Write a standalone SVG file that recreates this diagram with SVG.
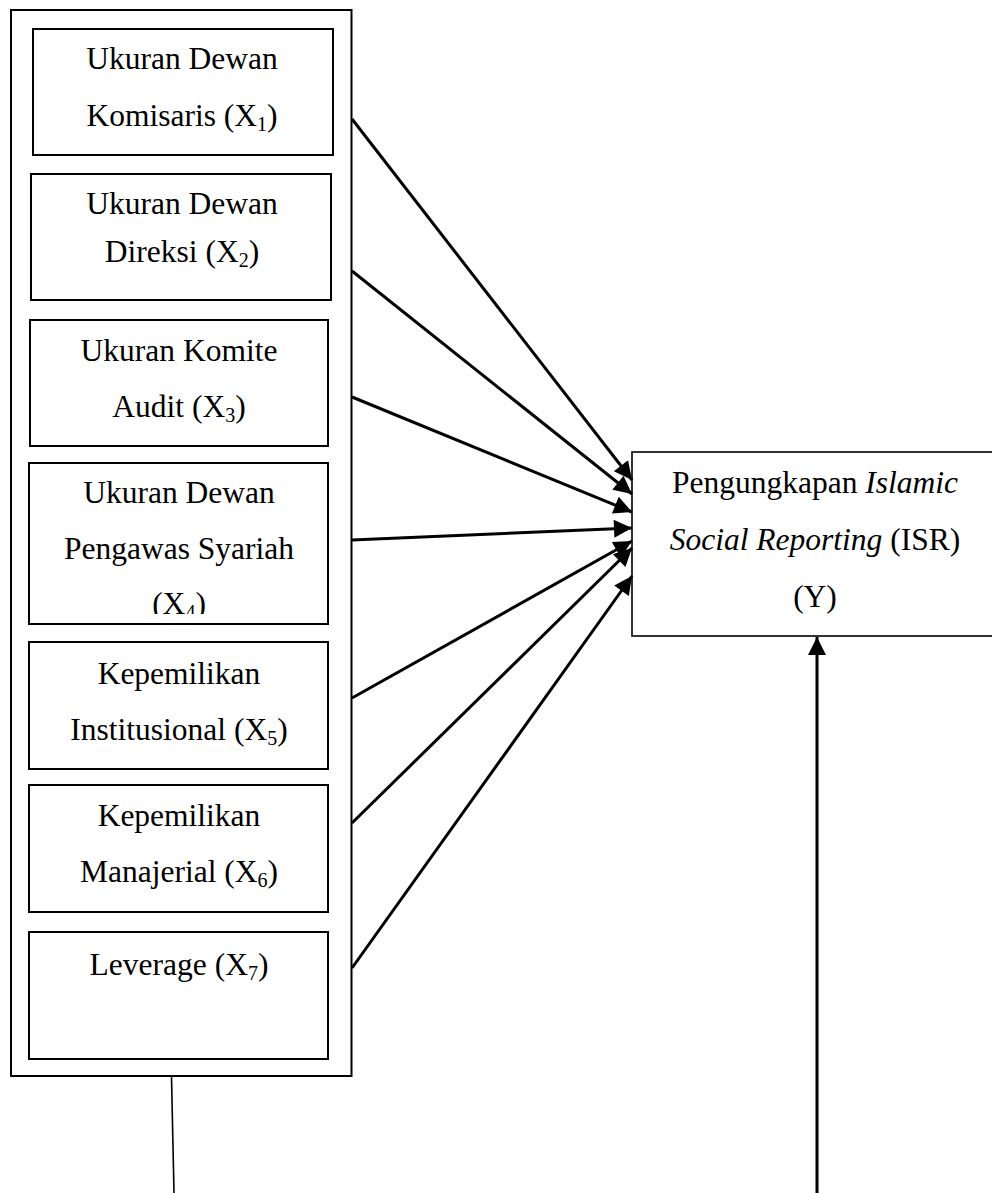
<svg xmlns="http://www.w3.org/2000/svg" width="992" height="1193" viewBox="0 0 992 1193">
<style>
.box{fill:#fff;stroke:#000;stroke-width:2}
.t{font-family:"Liberation Serif","Times New Roman",serif;font-size:31.5px;fill:#000;text-anchor:middle}
.sub{font-size:20px}
.it{font-style:italic}
.c{stroke:#000;stroke-width:3;fill:none}
</style>
<defs>
<marker id="ah" viewBox="0 0 10 10" refX="10" refY="5" markerWidth="7" markerHeight="6" markerUnits="strokeWidth" orient="auto">
<path d="M0,0 L10,5 L0,10 z" fill="#000"/>
</marker>
<clipPath id="clip4"><rect x="29" y="463" width="299" height="151"/></clipPath>
</defs>
<g id="outer"><rect class="box" x="11" y="10" width="340.5" height="1066"/></g>
<g id="x1"><rect class="box" x="33" y="29" width="300" height="126"/>
<text class="t" x="182" y="69">Ukuran Dewan</text>
<text class="t" x="182" y="126">Komisaris (X<tspan class="sub" dy="5">1</tspan><tspan dy="-5">)</tspan></text></g>
<g id="x2"><rect class="box" x="31" y="174" width="300" height="126"/>
<text class="t" x="182" y="214">Ukuran Dewan</text>
<text class="t" x="182" y="262">Direksi (X<tspan class="sub" dy="5">2</tspan><tspan dy="-5">)</tspan></text></g>
<g id="x3"><rect class="box" x="30" y="320" width="298" height="126"/>
<text class="t" x="179" y="361">Ukuran Komite</text>
<text class="t" x="179" y="417">Audit (X<tspan class="sub" dy="5">3</tspan><tspan dy="-5">)</tspan></text></g>
<g id="x4"><rect class="box" x="29" y="463" width="299" height="161"/>
<g clip-path="url(#clip4)">
<text class="t" x="179" y="503">Ukuran Dewan</text>
<text class="t" x="179" y="559">Pengawas Syariah</text>
<text class="t" x="179" y="614">(X<tspan class="sub" dy="5">4</tspan><tspan dy="-5">)</tspan></text></g></g>
<g id="x5"><rect class="box" x="29" y="642" width="299" height="127"/>
<text class="t" x="179" y="684">Kepemilikan</text>
<text class="t" x="179" y="740">Institusional (X<tspan class="sub" dy="5">5</tspan><tspan dy="-5">)</tspan></text></g>
<g id="x6"><rect class="box" x="29" y="785" width="299" height="127"/>
<text class="t" x="179" y="826">Kepemilikan</text>
<text class="t" x="179" y="882">Manajerial (X<tspan class="sub" dy="5">6</tspan><tspan dy="-5">)</tspan></text></g>
<g id="x7"><rect class="box" x="29" y="932" width="299" height="127"/>
<text class="t" x="179" y="975">Leverage (X<tspan class="sub" dy="5">7</tspan><tspan dy="-5">)</tspan></text></g>
<g id="y"><rect class="box" x="632" y="452" width="362" height="184" style="stroke-width:1.6"/>
<text class="t" x="815" y="493">Pengungkapan <tspan class="it">Islamic</tspan></text>
<text class="t" x="815" y="550"><tspan class="it">Social Reporting</tspan> (ISR)</text>
<text class="t" x="815" y="607">(Y)</text></g>
<g id="connectors">
<line class="c" x1="352" y1="119" x2="632" y2="480" marker-end="url(#ah)"/>
<line class="c" x1="352" y1="271" x2="632" y2="494" marker-end="url(#ah)"/>
<line class="c" x1="352" y1="397" x2="632" y2="512" marker-end="url(#ah)"/>
<line class="c" x1="352" y1="540" x2="632" y2="528" marker-end="url(#ah)"/>
<line class="c" x1="352" y1="698" x2="632" y2="541" marker-end="url(#ah)"/>
<line class="c" x1="352" y1="823" x2="632" y2="548" marker-end="url(#ah)"/>
<line class="c" x1="352" y1="968" x2="632" y2="576" marker-end="url(#ah)"/>
<line x1="171.5" y1="1077" x2="174" y2="1193" stroke="#000" stroke-width="1.6"/>
<line class="c" x1="817" y1="1193" x2="817" y2="637" marker-end="url(#ah)"/>
</g>
</svg>
